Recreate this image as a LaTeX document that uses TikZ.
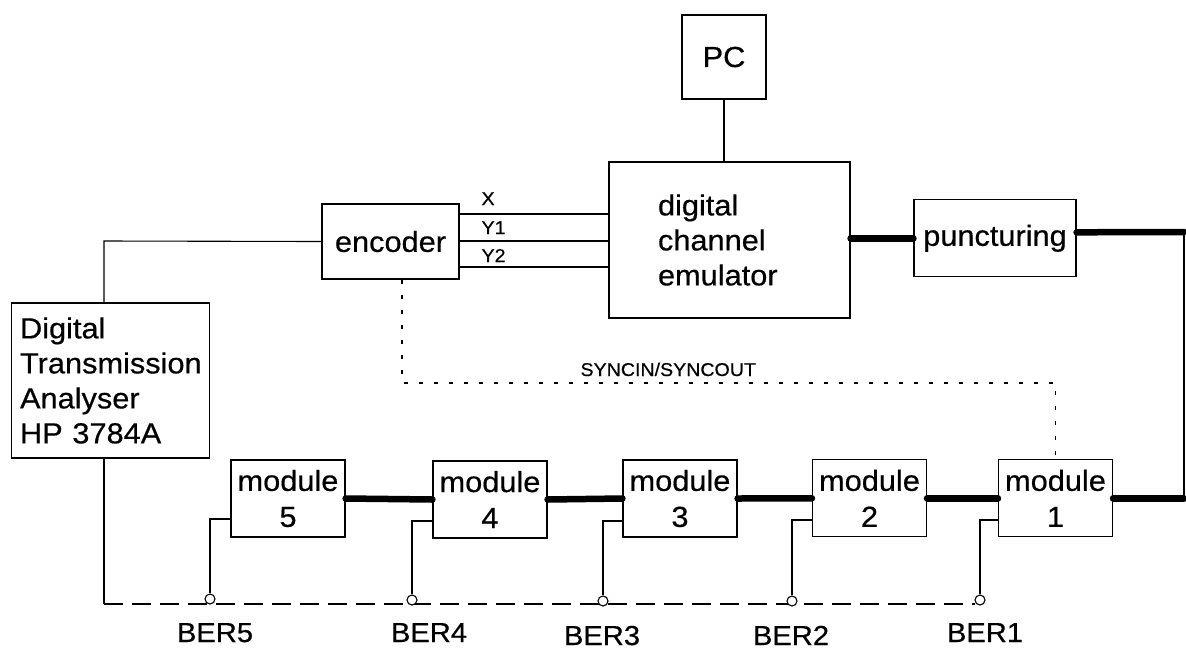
\documentclass[tikz,border=0pt]{standalone}
\usepackage{fontspec}
\setmainfont{Liberation Sans}[FakeStretch=1.06,FakeBold=0.5]
\usetikzlibrary{calc}
\newcommand\myfs[2]{\fontsize{#1}{#2}\selectfont}
\begin{document}
\begin{tikzpicture}[x=1pt,y=-1pt,
  box/.style={draw,line width=1.1pt,inner sep=0pt},
  bus/.style={line width=6.5pt,line cap=round},
  wire/.style={line width=1.1pt},
  sync/.style={line width=1.1pt,dash pattern=on 4pt off 11pt},
  berline/.style={line width=1.1pt,dash pattern=on 19pt off 9pt},
  tap/.style={circle,draw,line width=1.1pt,fill=white,minimum size=10pt,inner sep=0pt},
  big/.style={font=\myfs{29}{35}},
  small/.style={font=\myfs{18.5}{20}},
  berlab/.style={font=\myfs{27.5}{30}},
  modbox/.style={box,minimum width=114pt,minimum height=77pt,align=center,font=\myfs{29}{36}}
]
\useasboundingbox (0,0) rectangle (1186,649);

% boxes
\node[box,big,minimum width=84pt,minimum height=84pt] (pc) at (724,57) {PC};
\node[box,big,minimum height=156pt,text width=143pt,inner xsep=49pt,align=left] (emu) at (729.5,240) {digital\\channel\\emulator};
\node[box,big,minimum width=137pt,minimum height=75pt] (enc) at (390.5,241.5) {encoder};
\node[box,big,minimum width=162pt,minimum height=77pt] (punct) at (995,238.3) {puncturing};
\node[box,big,text width=180.5pt,inner xsep=8.5pt,minimum height=155pt,align=left] (dta) at (110.3,380.5) {Digital\\Transmission\\Analyser\\HP 3784A};

\node[modbox] (m5) at (288,498.5) {module\\5};
\node[modbox] (m4) at (490,499.5) {module\\4};
\node[modbox] (m3) at (680,498.5) {module\\3};
\node[modbox] (m2) at (869.5,498.3) {module\\2};
\node[modbox] (m1) at (1055.5,498.3) {module\\1};

% helper coordinates
\coordinate (c1) at (104,241);
\coordinate (c2) at (104,604);
\coordinate (dend) at (975,604);
\coordinate (rt) at (1184,232);
\coordinate (s1) at (402,383);

% thin wires
\draw[wire] (pc.south) -- (pc.south |- emu.north);
\draw[wire] (enc.west) -- (c1) -- (c1 |- dta.north);
\draw[wire] (c1 |- dta.south) -- (c2);
\draw[wire] (enc.east |- 0,214) -- (emu.west |- 0,214);
\draw[wire] (enc.east |- 0,241) -- (emu.west |- 0,241);
\draw[wire] (enc.east |- 0,267) -- (emu.west |- 0,267);
\node[small,anchor=base west] (lx) at (478,205) {X};
\node[small,anchor=base west] (ly1) at (478,234) {Y1};
\node[small,anchor=base west] (ly2) at (478,262) {Y2};

% thick data path
\draw[bus] (emu.east |- punct.west) -- (punct.west);
\draw[bus] ($(punct.east)+(0,-6)$) -- (rt);
\draw[wire] (rt) -- (m1.east -| rt);
\draw[bus] (m1.east) -- (m1.east -| rt);
\draw[bus] (m1.west) -- (m2.east);
\draw[bus] (m2.west) -- (m3.east);
\draw[bus] (m3.west) -- (m4.east);
\draw[bus] (m4.west) -- (m5.east);

% sync
\draw[sync] ($(enc.south)+(11.5,0)$) -- (s1) -| (m1.north);
\node[small,anchor=base west] (synclab) at (577,376) {SYNCIN/SYNCOUT};

% BER bus
\draw[berline] (c2) -- (dend);
\node[tap] (b5) at (210,599) {};
\node[tap] (b4) at (412,600) {};
\node[tap] (b3) at (603,601) {};
\node[tap] (b2) at (792,601) {};
\node[tap] (b1) at (980,600) {};
\draw[wire] (m5.west |- 0,519) -| (b5.north);
\draw[wire] (m4.west |- 0,521) -| (b4.north);
\draw[wire] (m3.west |- 0,521) -| (b3.north);
\draw[wire] (m2.west |- 0,520) -| (b2.north);
\draw[wire] (m1.west |- 0,520) -| (b1.north);
\node[berlab,anchor=base] (l5) at (215,642) {BER5};
\node[berlab,anchor=base] (l4) at (429,642) {BER4};
\node[berlab,anchor=base] (l3) at (602,645) {BER3};
\node[berlab,anchor=base] (l2) at (791,645) {BER2};
\node[berlab,anchor=base] (l1) at (985,642) {BER1};
\end{tikzpicture}
\end{document}
